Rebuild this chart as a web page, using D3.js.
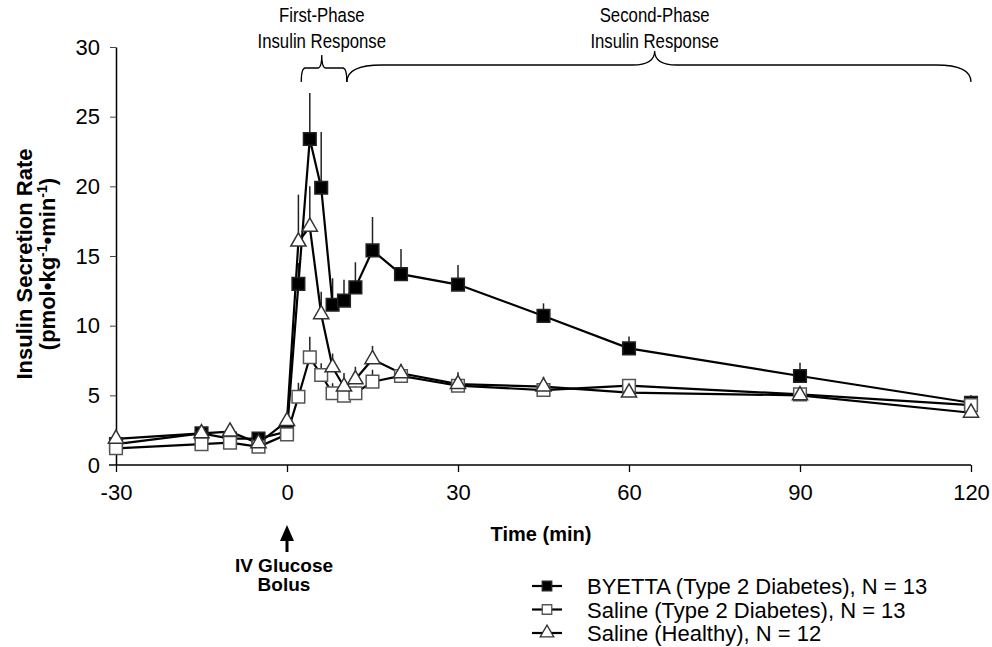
<!DOCTYPE html>
<html><head><meta charset="utf-8">
<script src="https://cdn.jsdelivr.net/npm/d3@7"></script>
<style>body{margin:0;background:#fff}svg{display:block;font-family:Arial,"Liberation Sans",sans-serif}</style>
</head><body><svg id="c" width="992" height="647"></svg>
<script>
const times = [-30,-15,-10,-5,0,2,4,6,8,10,12,15,20,30,45,60,90,120];
const byetta = [1.5,2.27,1.9,1.9,2.4,13.0,23.4,19.9,11.5,11.8,12.75,15.4,13.7,12.95,10.7,8.37,6.39,4.47];
const byettaErr = [0.2,0.2,0.2,0.2,0.3,1.5,3.3,4.0,1.9,1.5,1.8,2.4,1.8,1.4,0.9,0.85,0.95,0.55];
const salineT2D = [1.2,1.5,1.6,1.31,2.2,4.9,7.73,6.46,5.15,4.98,5.15,5.98,6.39,5.69,5.38,5.69,5.07,4.3];
const salineT2DErr = [0.2,0.2,0.2,0.2,0.2,1.0,1.47,0.85,0.72,0.6,0.5,0.85,0.5,0.4,0.4,0.4,0.4,0.4];
const healthy = [1.88,2.27,2.39,1.56,3.15,16.03,17.1,10.82,7.0,5.62,6.15,7.59,6.58,5.81,5.62,5.19,5.0,3.75];
const healthyErr = [0.3,0.3,0.35,0.3,0.4,3.37,2.9,1.62,1.0,0.98,0.9,0.95,0.67,0.84,0.72,0.4,0.5,0.4];
const xTicks = [-30,0,30,60,90,120];
const yTicks = [0,5,10,15,20,25,30];
const seriesNames = ["BYETTA (Type 2 Diabetes), N = 13","Saline (Type 2 Diabetes), N = 13","Saline (Healthy), N = 12"];
const phaseLabels = [["First-Phase","Insulin Response"],["Second-Phase","Insulin Response"]];
const phaseRanges = [[2.5,6.1,10.5],[10.5,64.5,120]];

const svg = d3.select("#c");
const x = d3.scaleLinear().domain([-30,120]).range([116,971]);
const y = d3.scaleLinear().domain([0,30]).range([465,47]);

// axes
const xa = svg.append("g").attr("transform","translate(0,465)")
  .call(d3.axisBottom(x).tickValues(xTicks).tickFormat(d=>String(d)).tickSize(7).tickPadding(12).tickSizeOuter(0));
xa.select(".domain").attr("d","M109,0H971").attr("stroke","#000").attr("stroke-width",1.5);
xa.selectAll(".tick line").attr("stroke","#000").attr("stroke-width",1.3);
xa.selectAll("text").attr("font-size",22).attr("fill","#000").attr("font-family","Arial, Liberation Sans, sans-serif");

const ya = svg.append("g").attr("transform","translate(116,0)")
  .call(d3.axisLeft(y).tickValues(yTicks).tickFormat(d=>String(d)).tickSize(6).tickPadding(10).tickSizeOuter(0));
ya.select(".domain").attr("stroke","#000").attr("stroke-width",1.5);
ya.selectAll(".tick line").attr("stroke","#444").attr("stroke-width",1);
ya.selectAll("text").attr("font-size",22).attr("fill","#000").attr("font-family","Arial, Liberation Sans, sans-serif");

// titles
const yt = svg.append("text").attr("transform","translate(32,264) rotate(-90)")
  .attr("text-anchor","middle").attr("font-weight","bold").attr("font-size",22);
yt.append("tspan").attr("x",0).attr("y",0).text("Insulin Secretion Rate");
const l2 = yt.append("tspan").attr("x",0).attr("y",23);
l2.append("tspan").text("(pmol•kg");
l2.append("tspan").attr("font-size",14).attr("dy",-8).text("-1");
l2.append("tspan").attr("dy",8).text("•min");
l2.append("tspan").attr("font-size",14).attr("dy",-8).text("-1");
l2.append("tspan").attr("dy",8).text(")");

svg.append("text").attr("x",541).attr("y",541).attr("text-anchor","middle")
  .attr("font-weight","bold").attr("font-size",20).text("Time (min)");

// IV glucose arrow
svg.append("line").attr("x1",x(0)).attr("x2",x(0)).attr("y1",552).attr("y2",538).attr("stroke","#000").attr("stroke-width",3);
svg.append("path").attr("d",`M${x(0)},525L${x(0)+7},541L${x(0)-7},541Z`).attr("fill","#000");
svg.append("text").attr("x",x(0)-3).attr("y",572).attr("text-anchor","middle").attr("font-weight","bold").attr("font-size",19).text("IV Glucose");
svg.append("text").attr("x",x(0)-3).attr("y",591).attr("text-anchor","middle").attr("font-weight","bold").attr("font-size",19).text("Bolus");

// braces
function brace(x1, xm, x2, yb, ym, yt, r1, r2, rt){
  return `M${x1},${yb} Q${x1},${ym} ${x1+r1},${ym} L${xm-rt},${ym} Q${xm},${ym} ${xm},${yt} Q${xm},${ym} ${xm+rt},${ym} L${x2-r2},${ym} Q${x2},${ym} ${x2},${yb}`;
}
svg.append("path").attr("d",brace(x(phaseRanges[0][0]),x(phaseRanges[0][1]),x(phaseRanges[0][2]),82,68,55,4,4,4))
  .attr("fill","none").attr("stroke","#000").attr("stroke-width",1.3);
svg.append("path").attr("d",brace(x(phaseRanges[1][0]),x(phaseRanges[1][1]),x(phaseRanges[1][2]),82,65,51,35,35,22))
  .attr("fill","none").attr("stroke","#000").attr("stroke-width",1.3);
phaseLabels.forEach((lab,i)=>{
  const cx = x(phaseRanges[i][1]);
  const g = svg.append("g").attr("transform",`translate(${cx},0) scale(0.86,1)`);
  g.append("text").attr("x",0).attr("y",22).attr("text-anchor","middle").attr("font-size",19.5).text(lab[0]);
  g.append("text").attr("x",0).attr("y",48).attr("text-anchor","middle").attr("font-size",19.5).text(lab[1]);
});

// series
const series = [
  {vals:byetta, err:byettaErr, type:"sq", fill:"#000", stroke:"#222"},
  {vals:salineT2D, err:salineT2DErr, type:"sq", fill:"#fff", stroke:"#555"},
  {vals:healthy, err:healthyErr, type:"tri", fill:"#fff", stroke:"#333"}
];
const line = d3.line().x(d=>x(d[0])).y(d=>y(d[1]));
const sqSym = d3.symbol().type(d3.symbolSquare).size(160);
const triSym = d3.symbol().type(d3.symbolTriangle).size(100);

series.forEach(s=>{
  s.pts = times.map((t,i)=>[t,s.vals[i],s.err[i]]);
});
// error bars
series.forEach(s=>{
  svg.append("g").selectAll("line").data(s.pts).join("line")
    .attr("x1",d=>x(d[0])).attr("x2",d=>x(d[0]))
    .attr("y1",d=>y(d[1])).attr("y2",d=>y(d[1]+d[2]))
    .attr("stroke","#222").attr("stroke-width",1.5);
});
series.forEach(s=>{
  svg.append("path").datum(s.pts).attr("d",line).attr("fill","none").attr("stroke","#000").attr("stroke-width",2.2);
});
series.forEach(s=>{
  svg.append("g").selectAll("path").data(s.pts).join("path")
    .attr("transform",d=>`translate(${x(d[0])},${y(d[1])})`)
    .attr("d",s.type==="sq"?sqSym():triSym())
    .attr("fill",s.fill).attr("stroke",s.stroke).attr("stroke-width",1.5);
});

// legend
const lg = svg.append("g");
series.forEach((s,i)=>{
  const yy = 586 + i*23.5;
  lg.append("line").attr("x1",532).attr("x2",562).attr("y1",yy).attr("y2",yy).attr("stroke","#000").attr("stroke-width",2.2);
  lg.append("path").attr("transform",`translate(547,${yy})`)
    .attr("d",s.type==="sq"?d3.symbol().type(d3.symbolSquare).size(90)():d3.symbol().type(d3.symbolTriangle).size(80)())
    .attr("fill",s.fill).attr("stroke",s.stroke).attr("stroke-width",1.3);
  lg.append("text").attr("x",587).attr("y",yy+8).attr("font-size",22).text(seriesNames[i]);
});
</script></body></html>
